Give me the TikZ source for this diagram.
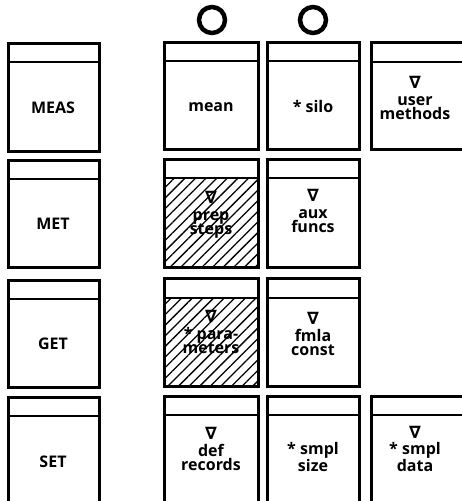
\documentclass[tikz,border=0pt]{standalone}
\usepackage{fontspec}
\setmainfont{Open Sans}
\newfontfamily\symfont{DejaVu Sans}
\usetikzlibrary{patterns.meta}
\newcommand\nab{{\symfont\bfseries\fontsize{17}{17}\selectfont ∇}}
\tikzset{
  outline/.style={line width=3pt},
  headline/.style={line width=2.3pt},
  hatch/.style={pattern={Lines[angle=45,distance=7.5pt,line width=1.3pt]}},
  ring/.style={draw,line width=4.5pt,circle,minimum size=26pt,inner sep=0pt},
  lbl/.style={font=\bfseries\fontsize{16}{14.5}\selectfont,align=center,inner sep=0pt},
}
% \cellbox{name}{x1}{x2}{top}{head}{bottom}
\newcommand\cellbox[6]{%
  \coordinate (#1-nw) at (#2,#4);
  \coordinate (#1-se) at (#3,#6);
  \draw[outline] (#1-nw) rectangle (#1-se);
  \draw[headline] (#2,#5) -- (#3,#5);
}
\begin{document}
\begin{tikzpicture}[x=1pt,y=-1pt]
\useasboundingbox (0,0) rectangle (462,501);
\clip (0,0) rectangle (462,501);
% hatching
\fill[hatch] (164,178) rectangle (258,267);
\fill[hatch] (164,298) rectangle (258,386);
% column 0
\cellbox{meas}{8}{99}{43}{62}{151}
\cellbox{met}{8}{99}{160}{179}{267}
\cellbox{get}{8}{99}{280}{299}{387}
\cellbox{set}{8}{99}{397}{416}{512}
% column 1
\cellbox{mean}{164}{258}{42}{61}{149}
\cellbox{prep}{164}{258}{159}{178}{267}
\cellbox{para}{164}{258}{278}{298}{386}
\cellbox{def}{164}{258}{396}{415}{512}
% column 2
\cellbox{silo}{267}{359}{42}{61}{149}
\cellbox{aux}{267}{359}{159}{178}{267}
\cellbox{fmla}{267}{359}{278}{298}{386}
\cellbox{size}{267}{359}{396}{415}{512}
% column 3
\cellbox{user}{371}{470}{42}{62}{149}
\cellbox{data}{371}{470}{396}{415}{512}
% rings
\node[ring] (ring1) at (212,20) {};
\node[ring] (ring2) at (313,20) {};
% labels
\node[lbl] (tmeas) at (53,108) {MEAS};
\node[lbl] (tmet) at (53,224) {MET};
\node[lbl] (tget) at (53,344) {GET};
\node[lbl] (tset) at (53,462) {SET};
\node[lbl] (tmean) at (211,107) {mean};
\node[lbl] (tsilo) at (313,106) {* silo};
\node[lbl] (tuser) at (415,98) {\nab\\[2pt]user\\methods};
\node[lbl] (tprep) at (211,215) {\nab\\[2pt]prep\\steps};
\node[lbl] (taux) at (313,211) {\nab\\[2pt]aux\\funcs};
\node[lbl] (tpara) at (211,332) {\nab\\[2pt]* para-\\meters};
\node[lbl] (tfmla) at (313,334) {\nab\\[2pt]fmla\\const};
\node[lbl] (tdef) at (211,449) {\nab\\[2pt]def\\records};
\node[lbl] (tsize) at (313,457) {* smpl\\size};
\node[lbl] (tdata) at (415,449) {\nab\\[2pt]* smpl\\data};
\end{tikzpicture}
\end{document}
